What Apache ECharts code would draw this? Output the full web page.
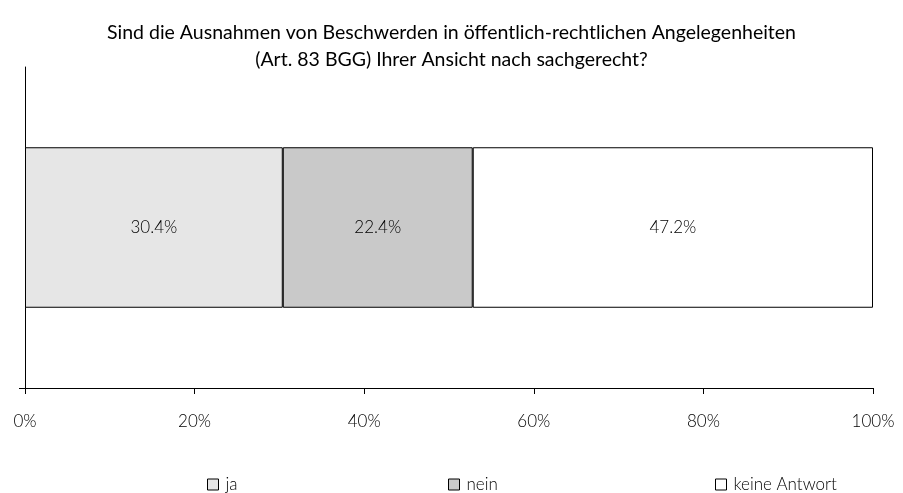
<!DOCTYPE html>
<html>
<head>
<meta charset="utf-8">
<script src="https://cdn.jsdelivr.net/npm/echarts@6/dist/echarts.min.js"></script>
<style>html,body{margin:0;padding:0;background:#fff;}#c{width:903px;height:493px;}</style>
</head>
<body>
<div id="c"></div>
<script>
const titleText = 'Sind die Ausnahmen von Beschwerden in öffentlich-rechtlichen Angelegenheiten\n(Art. 83 BGG) Ihrer Ansicht nach sachgerecht?';
const categories = [''];
const seriesNames = ['ja', 'nein', 'keine Antwort'];
const valuesJa = [30.4];
const valuesNein = [22.4];
const valuesKeine = [47.2];
const xTicks = [0, 20, 40, 60, 80, 100];
const colors = ['#e6e6e6', '#c9c9c9', '#ffffff'];
const FONT = 'Lato';

const seriesValues = [valuesJa, valuesNein, valuesKeine];
const chart = echarts.init(document.getElementById('c'), null, {renderer: 'canvas'});

const legendLefts = [202, 443, 710];
const legends = seriesNames.map((n, i) => ({
  data: [n],
  left: legendLefts[i],
  top: 471,
  itemWidth: 11,
  itemHeight: 11,
  icon: 'rect',
  itemGap: 0,
  textStyle: {fontFamily: FONT, fontSize: 17, fontWeight: 300, color: '#000', padding: [0, 0, 0, 2]},
  itemStyle: {borderColor: '#000', borderWidth: 1},
  selectedMode: false
}));

chart.setOption({
  animation: false,
  textStyle: {fontFamily: FONT},
  title: {
    text: titleText,
    left: 'center',
    top: 14,
    textStyle: {fontFamily: FONT, fontSize: 19.5, fontWeight: 'normal', color: '#000', lineHeight: 27}
  },
  legend: legends,
  grid: {left: 25, right: 30, top: 67, bottom: 105, containLabel: false},
  xAxis: {
    type: 'value',
    min: xTicks[0],
    max: xTicks[xTicks.length - 1],
    interval: 20,
    axisLine: {show: true, lineStyle: {color: '#000', width: 1}},
    axisTick: {show: true, length: 6, lineStyle: {color: '#000'}},
    splitLine: {show: false},
    axisLabel: {formatter: '{value}%', fontFamily: FONT, fontSize: 17, fontWeight: 300, color: '#000', margin: 25}
  },
  yAxis: [{
    type: 'category',
    data: categories,
    axisLine: {show: false},
    axisTick: {show: false},
    axisLabel: {show: false}
  }, {
    type: 'value',
    position: 'left',
    min: 0,
    max: 1,
    axisLine: {show: true, lineStyle: {color: '#000', width: 1}},
    axisTick: {show: true, length: 6, customValues: [0], lineStyle: {color: '#000'}},
    axisLabel: {show: false},
    splitLine: {show: false}
  }],
  series: seriesNames.map((n, i) => ({
    name: n,
    type: 'bar',
    stack: 'total',
    barWidth: '50%',
    yAxisIndex: 0,
    data: seriesValues[i],
    itemStyle: {color: colors[i], borderColor: '#000', borderWidth: 1},
    label: {
      show: true,
      position: 'inside',
      formatter: p => p.value.toFixed(1) + '%',
      fontFamily: FONT,
      fontSize: 17,
      fontWeight: 300,
      color: '#000'
    }
  }))
});
</script>
</body>
</html>
